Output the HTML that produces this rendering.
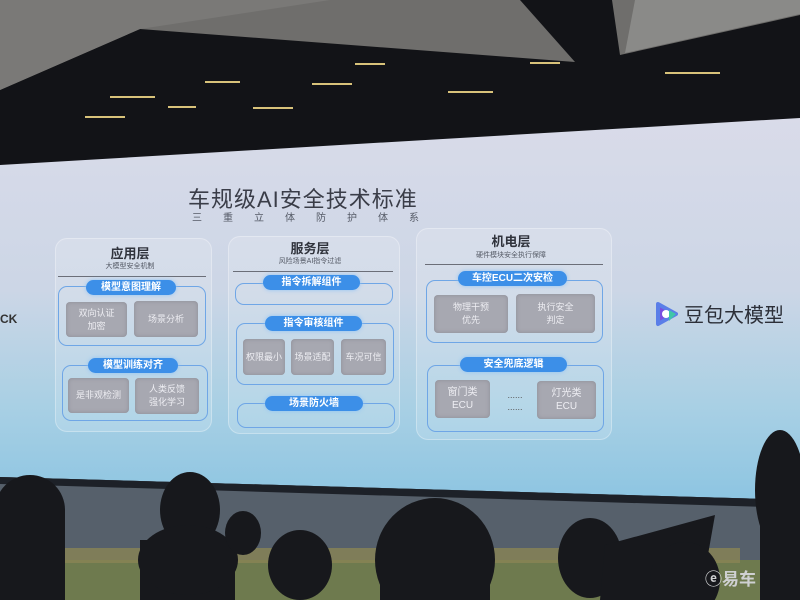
<!DOCTYPE html>
<html><head><meta charset="utf-8"><style>
*{margin:0;padding:0;box-sizing:border-box}
body{width:800px;height:600px;overflow:hidden;position:relative;background:#121317;font-family:"Liberation Sans","Noto Sans CJK SC",sans-serif}
.a{position:absolute}
.t{position:absolute;white-space:nowrap;text-align:center}
.box{position:absolute;border:1px solid #6fa6e6;border-radius:9px}
.pill{position:absolute;height:15px;border-radius:8px;background:#3c8fe8;color:#fff;font-size:10px;font-weight:bold;line-height:15px;text-align:center;box-shadow:0 0 4px #8fc3f5}
.tile{position:absolute;background:#a7a8b1;border-radius:4px;color:#eeeef3;font-size:9px;display:flex;align-items:center;justify-content:center;text-align:center;line-height:13px;box-shadow:inset 0 0 4px #8c8d96}
.card{position:absolute;background:rgba(255,255,255,0.15);border-radius:12px;border:1px solid rgba(255,255,255,0.3)}
.h{font-size:13px;font-weight:bold;color:#30333c}
.s{font-size:7px;color:#555a66}
.ln{position:absolute;height:1px;background:#6b6e78}
</style></head><body>
<svg class="a" style="left:0;top:0" width="800" height="600">
<defs>
<linearGradient id="sc" x1="0" y1="0" x2="0" y2="1">
<stop offset="0" stop-color="#d9dbe9"/><stop offset="0.45" stop-color="#ccd6e6"/><stop offset="0.75" stop-color="#a9d0e4"/><stop offset="1" stop-color="#8dc5e2"/></linearGradient>
</defs>
<polygon points="0,0 800,0 800,15 620,55 612,0 520,0 575,62 140,29 0,90" fill="#6f6e6c"/>
<polygon points="0,0 330,0 140,29 0,90" fill="#7a7977"/>
<polygon points="800,0 800,14 625,53 635,0" fill="#8a8a88"/>
<g fill="#d8c27a"><rect x="110" y="96" width="45" height="2"/><rect x="85" y="116" width="40" height="2"/><rect x="205" y="81" width="35" height="2"/><rect x="168" y="106" width="28" height="2"/><rect x="253" y="107" width="40" height="2"/><rect x="312" y="83" width="40" height="2"/><rect x="448" y="91" width="45" height="2"/><rect x="355" y="63" width="30" height="2"/><rect x="530" y="62" width="30" height="2"/><rect x="665" y="72" width="55" height="2"/></g>
<polygon points="0,165 800,118 800,500 0,477" fill="url(#sc)"/>
<polygon points="0,477 800,500 800,600 0,600" fill="#56606b"/>
<polygon points="0,477 800,500 800,508 0,484" fill="#1d2128"/>
<rect x="0" y="560" width="800" height="40" fill="#6e7a4e"/>
<rect x="40" y="548" width="700" height="15" fill="#8a8555" opacity="0.8"/>
<g fill="#17181c">
<ellipse cx="30" cy="510" rx="35" ry="35"/><rect x="0" y="510" width="65" height="90"/>
<ellipse cx="190" cy="510" rx="30" ry="38"/><rect x="140" y="540" width="95" height="60"/><ellipse cx="188" cy="560" rx="50" ry="35"/>
<ellipse cx="243" cy="533" rx="18" ry="22"/>
<ellipse cx="300" cy="565" rx="32" ry="35"/>
<ellipse cx="435" cy="560" rx="60" ry="62"/><rect x="380" y="570" width="110" height="30"/>
<ellipse cx="590" cy="558" rx="32" ry="40"/>
<polygon points="605,545 715,515 700,600 600,600"/>
<ellipse cx="685" cy="580" rx="35" ry="38"/>
<ellipse cx="780" cy="490" rx="25" ry="60"/><rect x="760" y="480" width="40" height="120"/>
</g>
</svg>

<div class="t" style="left:0;top:312px;font-size:12px;color:#333;font-weight:bold">CK</div>

<div class="t" style="left:188px;top:182px;font-size:22px;color:#3a3d48;letter-spacing:1px">车规级AI安全技术标准</div>
<div class="t" style="left:192px;top:209px;font-size:10px;color:#555a66;letter-spacing:21px">三重立体防护体系</div>

<div class="card" style="left:55px;top:238px;width:157px;height:194px"></div>
<div class="card" style="left:228px;top:236px;width:172px;height:198px"></div>
<div class="card" style="left:416px;top:228px;width:196px;height:212px"></div>

<div class="t h" style="left:80px;top:243px;width:100px">应用层</div>
<div class="t s" style="left:80px;top:261px;width:100px">大模型安全机制</div>
<div class="ln" style="left:58px;top:276px;width:148px"></div>
<div class="box" style="left:58px;top:286px;width:148px;height:60px"></div>
<div class="pill" style="left:86px;top:280px;width:90px">模型意图理解</div>
<div class="tile" style="left:66px;top:302px;width:61px;height:35px">双向认证<br>加密</div>
<div class="tile" style="left:134px;top:301px;width:64px;height:36px">场景分析</div>
<div class="box" style="left:62px;top:365px;width:146px;height:56px"></div>
<div class="pill" style="left:88px;top:358px;width:90px">模型训练对齐</div>
<div class="tile" style="left:68px;top:378px;width:61px;height:35px">是非观检测</div>
<div class="tile" style="left:135px;top:378px;width:64px;height:36px">人类反馈<br>强化学习</div>

<div class="t h" style="left:260px;top:238px;width:100px">服务层</div>
<div class="t s" style="left:250px;top:256px;width:120px">风险场景AI指令过滤</div>
<div class="ln" style="left:233px;top:271px;width:160px"></div>
<div class="box" style="left:235px;top:283px;width:158px;height:22px"></div>
<div class="pill" style="left:263px;top:275px;width:97px">指令拆解组件</div>
<div class="box" style="left:236px;top:323px;width:158px;height:62px"></div>
<div class="pill" style="left:265px;top:316px;width:97px">指令审核组件</div>
<div class="tile" style="left:243px;top:339px;width:42px;height:36px">权限最小</div>
<div class="tile" style="left:291px;top:339px;width:43px;height:36px">场景适配</div>
<div class="tile" style="left:341px;top:339px;width:45px;height:36px">车况可信</div>
<div class="box" style="left:237px;top:403px;width:158px;height:25px"></div>
<div class="pill" style="left:265px;top:396px;width:98px">场景防火墙</div>

<div class="t h" style="left:461px;top:231px;width:100px">机电层</div>
<div class="t s" style="left:451px;top:250px;width:120px">硬件模块安全执行保障</div>
<div class="ln" style="left:425px;top:264px;width:178px"></div>
<div class="box" style="left:426px;top:280px;width:177px;height:63px"></div>
<div class="pill" style="left:458px;top:271px;width:109px">车控ECU二次安检</div>
<div class="tile" style="left:434px;top:295px;width:74px;height:38px">物理干预<br>优先</div>
<div class="tile" style="left:516px;top:294px;width:79px;height:39px">执行安全<br>判定</div>
<div class="box" style="left:427px;top:365px;width:177px;height:67px"></div>
<div class="pill" style="left:460px;top:357px;width:107px">安全兜底逻辑</div>
<div class="tile" style="left:435px;top:380px;width:55px;height:38px;font-size:10px">窗门类<br>ECU</div>
<div class="t" style="left:500px;top:389px;width:30px;font-size:9px;color:#555;line-height:12px">......<br>......</div>
<div class="tile" style="left:537px;top:381px;width:59px;height:38px;font-size:10px">灯光类<br>ECU</div>

<svg class="a" style="left:655px;top:301px" width="24" height="26"><path d="M3,3 L21,13 L3,23 Z" fill="#7a4ee0" stroke="#5a7ee8" stroke-width="4" stroke-linejoin="round"/><circle cx="11" cy="13" r="4" fill="#fff"/><path d="M14,9 L21,13 L14,20Z" fill="#3fc6a8"/></svg>
<div class="t" style="left:684px;top:299px;font-size:20px;color:#2c2f38">豆包大模型</div>

<div class="t" style="left:705px;top:565px;font-size:17px;color:#cfd0d2;font-weight:bold">ⓔ易车</div>
</body></html>
